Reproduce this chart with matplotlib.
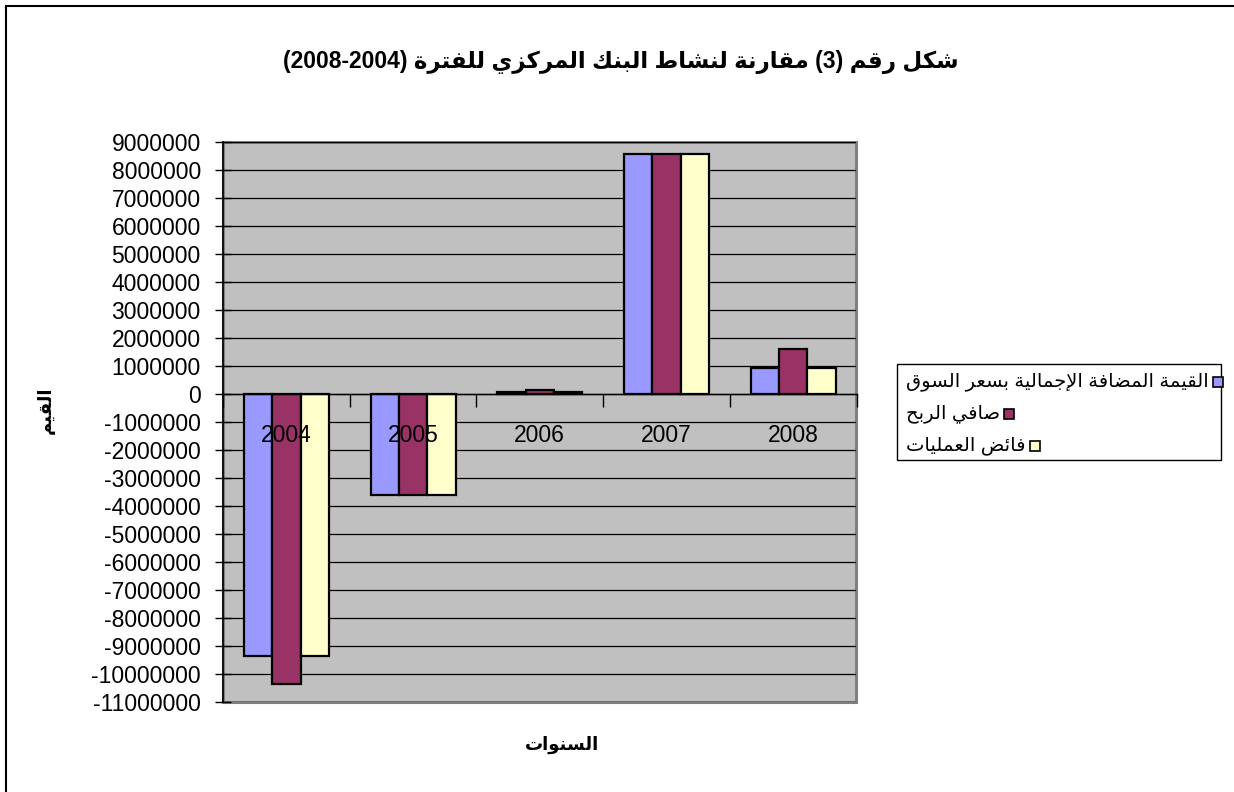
import numpy as np
import matplotlib
matplotlib.use("Agg")
import matplotlib.pyplot as plt
from matplotlib.patches import Rectangle
from matplotlib.ticker import FuncFormatter, FixedLocator

plt.rcParams['font.family'] = ['Liberation Sans', 'DejaVu Sans']
plt.rcParams['axes.unicode_minus'] = False

# data
years = ['2004', '2005', '2006', '2007', '2008']
gross_value_added = [-9350000, -3600000, 80000, 8550000, 930000]
net_profit = [-10350000, -3600000, 150000, 8550000, 1600000]
operating_surplus = [-9350000, -3600000, 80000, 8550000, 930000]
series_names = ['القيمة المضافة الإجمالية بسعر السوق', 'صافي الربح', 'فائض العمليات']
series_colors = ['#9999FF', '#993366', '#FFFFCC']
y_ticks = list(range(-11000000, 9000001, 1000000))

# Arabic presentation forms: tuple = right-joining (iso, fin), int = dual-joining base
FORMS = {
    'ا': (0xFE8D, 0xFE8E), 'إ': (0xFE87, 0xFE88), 'ة': (0xFE93, 0xFE94),
    'ر': (0xFEAD, 0xFEAE), 'ز': (0xFEAF, 0xFEB0), 'و': (0xFEED, 0xFEEE),
    'ب': 0xFE8F, 'ت': 0xFE95, 'ج': 0xFE9D, 'ح': 0xFEA1, 'س': 0xFEB1,
    'ش': 0xFEB5, 'ص': 0xFEB9, 'ض': 0xFEBD, 'ط': 0xFEC1, 'ع': 0xFEC9,
    'ف': 0xFED1, 'ق': 0xFED5, 'ك': 0xFED9, 'ل': 0xFEDD, 'م': 0xFEE1,
    'ن': 0xFEE5, 'ي': 0xFEF1, 'ئ': 0xFE89,
}
LAM_ALEF = {'ا': (0xFEFB, 0xFEFC), 'إ': (0xFEF9, 0xFEFA), 'أ': (0xFEF7, 0xFEF8)}


def ar(text):
    """Shape Arabic text and return it in visual (left-to-right) order"""
    units = []
    i = 0
    while i < len(text):
        c = text[i]
        if c == 'ل' and i + 1 < len(text) and text[i + 1] in LAM_ALEF:
            units.append(LAM_ALEF[text[i + 1]])
            i += 2
        else:
            units.append(FORMS.get(c, c))
            i += 1
    out = []
    for k, f in enumerate(units):
        if isinstance(f, str):
            out.append(f)
            continue
        prev = units[k - 1] if k > 0 else None
        nxt = units[k + 1] if k + 1 < len(units) else None
        join_prev = isinstance(prev, int)
        join_next = isinstance(f, int) and nxt is not None and not isinstance(nxt, str)
        if isinstance(f, tuple):
            out.append(chr(f[1] if join_prev else f[0]))
        else:
            off = {(False, False): 0, (True, False): 1, (False, True): 2, (True, True): 3}
            out.append(chr(f + off[(join_prev, join_next)]))
    return ''.join(out)[::-1]


W, H = 1234, 792
fig = plt.figure(figsize=(W / 100, H / 100), dpi=100)


def fx(x):
    return x / W


def fy(y):
    return 1 - y / H


# outer chart frame
fig.patches.append(Rectangle((fx(6), fy(800)), fx(1240) - fx(6), fy(6) - fy(800),
                             transform=fig.transFigure, fill=False, edgecolor='black', lw=1.5))

ax = fig.add_axes([fx(223), fy(702), fx(856.5) - fx(223), fy(141.7) - fy(702)])
ax.set_facecolor('#C0C0C0')

x = np.arange(len(years))
width = 0.2235
all_series = [gross_value_added, net_profit, operating_surplus]
for i, (vals, color) in enumerate(zip(all_series, series_colors)):
    ax.bar(x + (i - 1) * width, vals, width, color=color, edgecolor='black', lw=1.6, zorder=1.2)

for v in y_ticks:
    ax.axhline(v, color='black', lw=0.9, zorder=1)

ax.set_xlim(-0.5, len(years) - 0.5)
ax.set_ylim(y_ticks[0], y_ticks[-1])

ax.yaxis.set_major_locator(FixedLocator(y_ticks))
ax.yaxis.set_major_formatter(FuncFormatter(lambda v, p: '%d' % v))
ax.tick_params(axis='y', direction='inout', length=12, width=1, labelsize=16.5, pad=10)

# category axis crosses at zero, labels sit over the bars
ax.spines['bottom'].set_position(('data', 0))
ax.spines['bottom'].set_linewidth(1)
ax.set_xticks(np.arange(len(years) + 1) - 0.5)
ax.set_xticklabels([''] * (len(years) + 1))
ax.set_xticks(x, minor=True)
ax.set_xticklabels(years, minor=True, fontsize=16.5)
ax.tick_params(axis='x', which='major', direction='out', length=9, width=1)
ax.tick_params(axis='x', which='minor', length=0, pad=22)
ax.xaxis.set_zorder(3)
for s in ['top', 'right']:
    ax.spines[s].set_visible(False)
ax.spines['left'].set_linewidth(1.2)
ax.add_patch(Rectangle((0, 0), 1, 1, transform=ax.transAxes, fill=False,
                       edgecolor='#808080', lw=2.2, zorder=0.8, clip_on=False))

# titles
title = '(2008-2004) ' + ar('مقارنة لنشاط البنك المركزي للفترة') + ' (3) ' + ar('شكل رقم')
fig.text(fx(621), fy(62), title, ha='center', va='center', fontsize=16.5, fontweight='bold')
fig.text(fx(562), fy(745), ar('السنوات'), ha='center', va='center', fontsize=13, fontweight='bold')
fig.text(fx(46), fy(410), ar('القيم'), ha='center', va='center', fontsize=13,
         fontweight='bold', rotation=90)

# legend (Excel style: text left aligned, marker right after the text)
fig.patches.append(Rectangle((fx(897), fy(460)), fx(1221) - fx(897), fy(364) - fy(460),
                             transform=fig.transFigure, facecolor='white', edgecolor='black', lw=1))
renderer = fig.canvas.get_renderer()
for i, (name, color) in enumerate(zip(series_names, series_colors)):
    yc = 382 + i * 32
    t = fig.text(fx(906), fy(yc), ar(name), ha='left', va='center', fontsize=14)
    bb = t.get_window_extent(renderer)
    mx = bb.x1 + 4
    fig.patches.append(Rectangle((fx(mx), fy(yc + 5)), fx(10), 10 / H,
                                 transform=fig.transFigure, facecolor=color,
                                 edgecolor='black', lw=1.2))

fig.savefig('out.png', dpi=100)
